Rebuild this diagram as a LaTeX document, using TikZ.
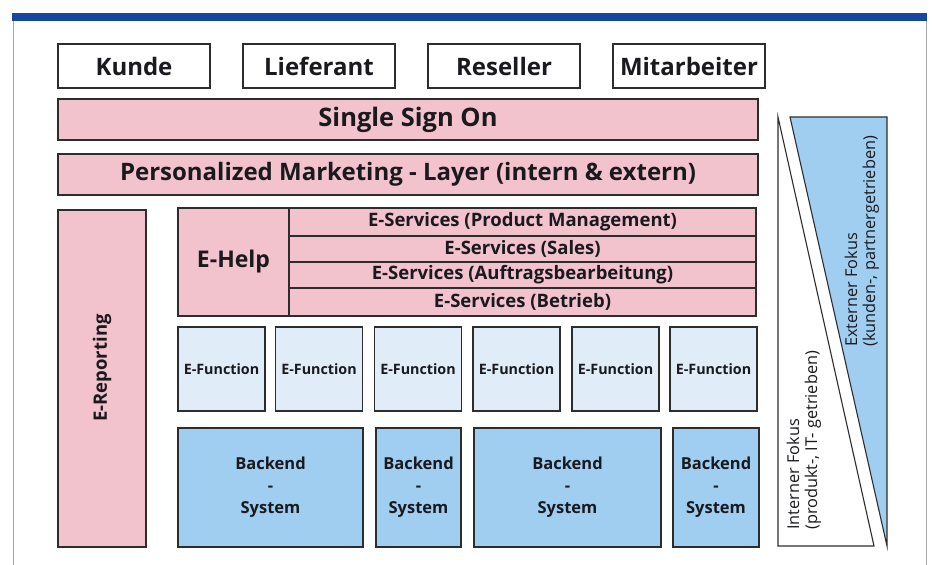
\documentclass[tikz,border=0pt]{standalone}
\usepackage{fontspec}
\setmainfont{Open Sans}
\definecolor{pinkf}{RGB}{242,194,205}
\definecolor{lblue}{RGB}{224,236,248}
\definecolor{mblue}{RGB}{160,206,240}
\definecolor{barblue}{RGB}{22,72,160}
\definecolor{edge}{RGB}{45,45,45}
\definecolor{txt}{RGB}{25,25,30}
\tikzset{
  base/.style={draw=edge, line width=1.3pt, inner sep=0pt, text=txt, font=\bfseries},
  actor/.style={base, fill=white, font=\fontsize{24}{26}\selectfont\bfseries},
  layer/.style={base, fill=pinkf, font=\fontsize{24}{26}\selectfont\bfseries},
  serv/.style={base, fill=pinkf, font=\fontsize{18.5}{20}\selectfont\bfseries},
  func/.style={base, fill=lblue, font=\fontsize{14.3}{16}\selectfont\bfseries},
  back/.style={base, fill=mblue, align=center, font=\fontsize{16.5}{22}\selectfont\bfseries},
  fokus/.style={rotate=90, anchor=west, align=left, inner sep=0pt, text=txt, font=\fontsize{16.3}{18}\selectfont}
}
\begin{document}
\begin{tikzpicture}[x=1pt,y=-1pt]
\useasboundingbox (0,0) rectangle (932,565);
% frame
\draw[gray!70, line width=0.8pt] (13,13) -- (13,565) (926,13) -- (926,565);
\fill[barblue] (12,13) rectangle (927,21);
% actors
\node[actor, minimum width=152, minimum height=44] (kunde) at (134,66) {Kunde};
\node[actor, minimum width=152, minimum height=44] (lief) at (319,66) {Lieferant};
\node[actor, minimum width=152, minimum height=44] (res) at (504,66) {Reseller};
\node[actor, minimum width=152, minimum height=44] (mit) at (689,66) {Mitarbeiter};
% layers
\node[layer, minimum width=700, minimum height=41, font=\fontsize{25.5}{27}\selectfont\bfseries] (sso) at (408,119.5) {Single Sign On};
\node[layer, minimum width=700, minimum height=41] (pm) at (408,174.5) {Personalized Marketing - Layer (intern \& extern)};
% E-Reporting
\node[layer, minimum width=88, minimum height=337] (erep) at (102,378.5) {};
\node[rotate=90, text=txt, font=\fontsize{18.5}{20}\selectfont\bfseries] (ereptxt) at (102,368) {E-Reporting};
% E-Help and services
\node[layer, minimum width=111, minimum height=108, font=\fontsize{23}{26}\selectfont\bfseries] (ehelp) at (233.5,262) {E-Help};
\node[serv, minimum width=467, minimum height=28] (s1) at (522.5,222) {E-Services (Product Management)};
\node[serv, minimum width=467, minimum height=26] (s2) at (522.5,249) {E-Services (Sales)};
\node[serv, minimum width=467, minimum height=26] (s3) at (522.5,275) {E-Services (Auftragsbearbeitung)};
\node[serv, minimum width=467, minimum height=28] (s4) at (522.5,302) {E-Services (Betrieb)};
% E-Functions
\foreach \cx [count=\i] in {221.5,319,418,516.5,615.5,713.5}{
  \node[func, minimum width=87, minimum height=84] (f\i) at (\cx,369) {E-Function};
}
% Backends
\node[back, minimum width=185, minimum height=119] (b1) at (270.5,487.5) {Backend\\-\\System};
\node[back, minimum width=85, minimum height=119] (b2) at (418.5,487.5) {Backend\\-\\System};
\node[back, minimum width=187, minimum height=119] (b3) at (567.5,487.5) {Backend\\-\\System};
\node[back, minimum width=86, minimum height=119] (b4) at (716,487.5) {Backend\\-\\System};
% focus triangles
\draw[edge, line width=1.1pt, fill=white] (778,117) -- (778,546) -- (874,546) -- cycle;
\draw[edge, line width=1.1pt, fill=mblue] (790,117) -- (887,117) -- (887,546) -- cycle;
\node[fokus] (ext) at (862,347) {Externer Fokus\\(kunden-, partnergetrieben)};
\node[fokus] (int) at (804,530) {Interner Fokus\\(produkt-, IT- getrieben)};
\end{tikzpicture}
\end{document}
